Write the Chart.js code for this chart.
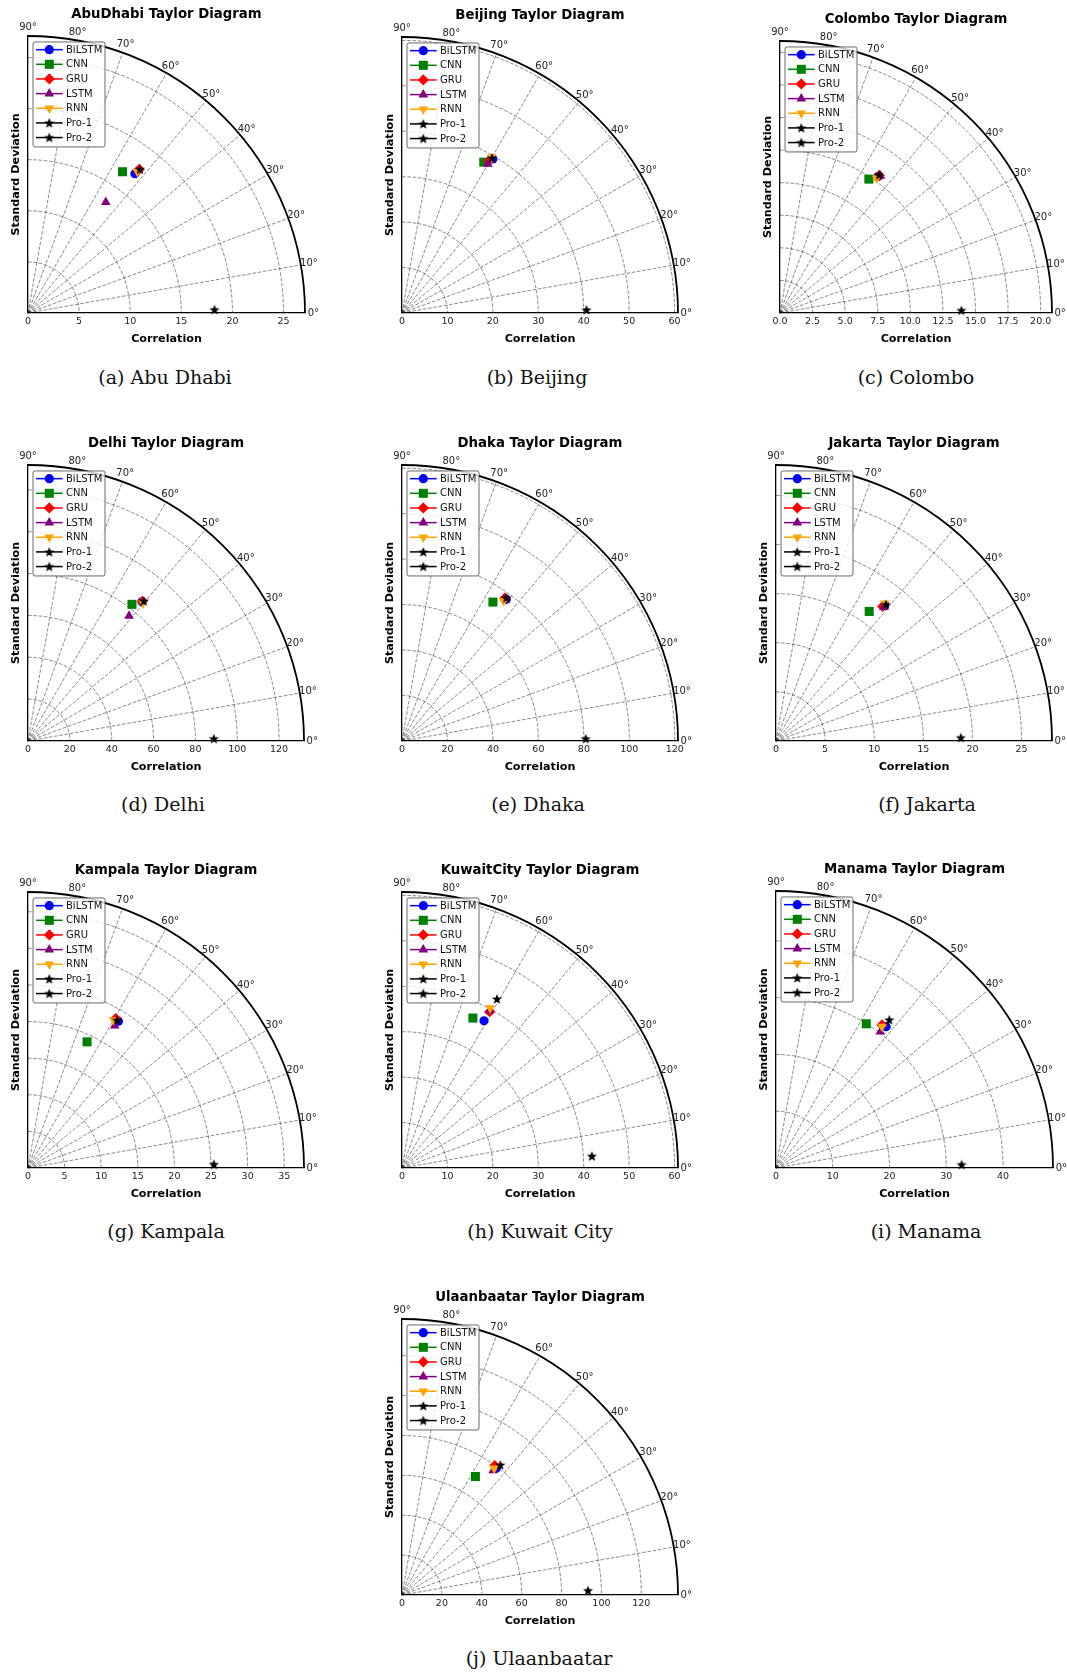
<!DOCTYPE html>
<html>
<head>
<meta charset="utf-8">
<title>Taylor Diagrams</title>
<script src="https://cdn.jsdelivr.net/npm/chart.js@4.4.1/dist/chart.umd.min.js"></script>
<style>
html, body { margin: 0; padding: 0; background: #fff; }
#page { position: relative; width: 1067px; height: 1673px; overflow: hidden; background: #fff; }
#page canvas { position: absolute; }
.cap { position: absolute; font-family: 'DejaVu Serif', serif; font-size: 19px; color: #111;
       transform: translate(-50%, -50%); white-space: nowrap; }
</style>
</head>
<body>
<div id="page"></div>
<script>
// ---- data ----
const models = ['BiLSTM', 'CNN', 'GRU', 'LSTM', 'RNN', 'Pro-1', 'Pro-2'];
const cities = ['AbuDhabi', 'Beijing', 'Colombo', 'Delhi', 'Dhaka', 'Jakarta',
                'Kampala', 'KuwaitCity', 'Manama', 'Ulaanbaatar'];
const captions = ['(a) Abu Dhabi', '(b) Beijing', '(c) Colombo', '(d) Delhi', '(e) Dhaka',
                  '(f) Jakarta', '(g) Kampala', '(h) Kuwait City', '(i) Manama', '(j) Ulaanbaatar'];
const tickStep = [5, 10, 2.5, 20, 20, 5, 5, 10, 10, 20];
const axisMax = [27.1, 60.75, 20.87, 131.9, 121.4, 28.1, 37.7, 60.75, 48.8, 138.4];
const angleTicks = [0, 10, 20, 30, 40, 50, 60, 70, 80, 90];

// x = "Correlation" axis, y = standard deviation axis (order follows models)
const abuDhabiX    = [10.46, 9.25, 10.88, 7.61, 10.7, 10.95, 18.24];
const abuDhabiY    = [13.63, 13.82, 14.05, 10.85, 13.8, 14.05, 0.33];
const beijingX     = [20.0, 18.0, 19.1, 18.9, 19.7, 19.8, 40.6];
const beijingY     = [33.9, 33.2, 33.5, 32.8, 34.3, 34.1, 0.7];
const colomboX     = [7.53, 6.82, 7.61, 7.71, 7.41, 7.61, 13.92];
const colomboY     = [10.47, 10.27, 10.55, 10.52, 10.34, 10.6, 0.2];
const delhiX       = [54.5, 49.7, 54.7, 48.3, 55.0, 55.3, 88.8];
const delhiY       = [66.5, 65.3, 66.7, 59.8, 65.9, 66.9, 1.1];
const dhakaX       = [45.9, 40.0, 45.2, 45.5, 44.7, 45.9, 80.8];
const dhakaY       = [62.3, 61.1, 62.8, 62.3, 61.6, 63.0, 1.0];
const jakartaX     = [11.05, 9.49, 10.85, 10.98, 11.08, 11.19, 18.81];
const jakartaY     = [13.8, 13.19, 13.69, 13.63, 14.03, 13.9, 0.34];
const kampalaX     = [12.35, 8.07, 11.99, 11.85, 11.71, 12.17, 25.39];
const kampalaY     = [20.05, 17.23, 20.42, 19.42, 20.19, 20.19, 0.5];
const kuwaitCityX  = [18.05, 15.6, 19.3, 19.3, 19.4, 20.9, 41.8];
const kuwaitCityY  = [32.4, 33.0, 34.4, 34.6, 35.2, 37.2, 2.6];
const manamaX      = [19.4, 15.9, 18.67, 18.37, 18.67, 19.96, 32.7];
const manamaY      = [24.9, 25.4, 25.2, 24.0, 24.9, 26.1, 0.59];
const ulaanbaatarX = [47.3, 36.8, 46.5, 45.7, 46.2, 49.3, 93.3];
const ulaanbaatarY = [63.5, 59.4, 64.9, 62.4, 63.5, 65.2, 2.2];

const corrData = [abuDhabiX, beijingX, colomboX, delhiX, dhakaX, jakartaX, kampalaX, kuwaitCityX, manamaX, ulaanbaatarX];
const stdData  = [abuDhabiY, beijingY, colomboY, delhiY, dhakaY, jakartaY, kampalaY, kuwaitCityY, manamaY, ulaanbaatarY];

// ---- layout (page pixels) ----
const originX  = [28, 402, 780, 28, 402, 776, 28, 402, 776, 402];
const originY  = [313, 313, 313, 741, 741, 741, 1168, 1168, 1168, 1595];
const radiusPx = [277, 276, 272, 276, 276, 276, 276, 276, 277, 276];
const captionX = [165, 537, 916, 163, 538, 927, 166, 540, 926, 539];
const captionY = [377, 377, 377, 804, 804, 804, 1231, 1231, 1231, 1658];
const padL = 36, padT = 42, padR = 36, padB = 36;

// ---- marker styles ----
function makeStar(size, color) {
    const c = document.createElement('canvas');
    c.width = size; c.height = size;
    const g = c.getContext('2d');
    const cx = size / 2, cy = size / 2 + 0.4, ro = size / 2 - 0.6, ri = ro * 0.42;
    g.beginPath();
    for (let k = 0; k < 10; k++) {
        const r = k % 2 ? ri : ro;
        const a = -Math.PI / 2 + k * Math.PI / 5;
        g.lineTo(cx + r * Math.cos(a), cy + r * Math.sin(a));
    }
    g.closePath();
    g.fillStyle = color;
    g.fill();
    return c;
}
const starImg = makeStar(12, '#000');

const colors = ['#0000ff', '#008000', '#ff0000', '#800080', '#ffa500', '#000000', '#000000'];
const pStyles = ['circle', 'rect', 'rectRot', 'triangle', 'triangle', starImg, starImg];
const pRadius = [4.6, 6.4, 5.6, 5.6, 5.6, 6, 6];
const pRotation = [0, 0, 0, 0, 180, 0, 0];

Chart.defaults.font.family = "'DejaVu Sans', sans-serif";

const taylorPlugin = {
    id: 'taylor',
    beforeDatasetsDraw(chart, args, opts) {
        const ctx = chart.ctx, xs = chart.scales.x, ys = chart.scales.y;
        const cx = xs.getPixelForValue(0), cy = ys.getPixelForValue(0);
        const rMax = xs.getPixelForValue(opts.max) - cx;
        ctx.save();
        ctx.strokeStyle = 'rgba(0,0,0,0.58)';
        ctx.lineWidth = 0.8;
        ctx.setLineDash([3.7, 1.6]);
        for (let v = opts.step; v < opts.max - 1e-6; v += opts.step) {
            const r = xs.getPixelForValue(v) - cx;
            ctx.beginPath();
            ctx.arc(cx, cy, r, -Math.PI / 2, 0);
            ctx.stroke();
        }
        angleTicks.forEach(a => {
            if (a === 0 || a === 90) return;
            const t = a * Math.PI / 180;
            ctx.beginPath();
            ctx.moveTo(cx, cy);
            ctx.lineTo(cx + rMax * Math.cos(t), cy - rMax * Math.sin(t));
            ctx.stroke();
        });
        ctx.setLineDash([]);
        ctx.strokeStyle = '#000';
        ctx.lineWidth = 1.8;
        ctx.beginPath();
        ctx.arc(cx, cy, rMax, -Math.PI / 2, 0);
        ctx.stroke();
        ctx.fillStyle = '#222';
        ctx.font = "10px 'DejaVu Sans'";
        ctx.textAlign = 'center';
        ctx.textBaseline = 'middle';
        angleTicks.forEach(a => {
            const t = a * Math.PI / 180;
            ctx.fillText(a + '\u00b0', cx + 1.03 * rMax * Math.cos(t), cy - 1.03 * rMax * Math.sin(t));
        });
        ctx.restore();
    },
    afterDraw(chart) {
        // legend box in the upper left of the plot
        const ctx = chart.ctx, ca = chart.chartArea;
        const L = ca.left + 5, T = ca.top + 6, W = 72, H = 105;
        ctx.save();
        ctx.fillStyle = 'rgba(255,255,255,0.8)';
        ctx.strokeStyle = '#444';
        ctx.lineWidth = 0.8;
        ctx.beginPath();
        ctx.roundRect(L, T, W, H, 2);
        ctx.fill();
        ctx.stroke();
        chart.data.datasets.forEach((d, i) => {
            const y = T + 7.7 + i * 14.65;
            ctx.strokeStyle = d.pointBorderColor;
            ctx.lineWidth = 1.5;
            ctx.beginPath();
            ctx.moveTo(L + 3, y);
            ctx.lineTo(L + 29.7, y);
            ctx.stroke();
            ctx.fillStyle = d.pointBackgroundColor;
            Chart.helpers.drawPoint(ctx, {
                pointStyle: d.pointStyle, rotation: d.pointRotation,
                radius: d.pointRadius, borderWidth: 0
            }, L + 16.3, y);
            ctx.fillStyle = '#111';
            ctx.font = "10px 'DejaVu Sans'";
            ctx.textAlign = 'left';
            ctx.textBaseline = 'middle';
            ctx.fillText(d.label, L + 33, y + 0.5);
        });
        ctx.restore();
    }
};

const page = document.getElementById('page');

cities.forEach((city, i) => {
    const R = radiusPx[i];
    const cv = document.createElement('canvas');
    cv.width = padL + R + padR;
    cv.height = padT + R + padB;
    cv.style.left = (originX[i] - padL) + 'px';
    cv.style.top = (originY[i] - R - padT) + 'px';
    page.appendChild(cv);

    const datasets = models.map((m, k) => ({
        label: m,
        data: [{ x: corrData[i][k], y: stdData[i][k] }],
        pointStyle: pStyles[k],
        pointRadius: pRadius[k],
        pointRotation: pRotation[k],
        pointBackgroundColor: colors[k],
        pointBorderColor: colors[k],
        pointBorderWidth: 0,
        clip: false,
        order: models.length - k
    }));

    const step = tickStep[i];
    new Chart(cv, {
        type: 'scatter',
        data: { datasets: datasets },
        options: {
            responsive: false,
            animation: false,
            events: [],
            layout: { padding: { left: 0, top: 0, right: padR, bottom: 0 } },
            scales: {
                x: {
                    type: 'linear', min: 0, max: axisMax[i],
                    afterFit(s) { s.height = padB; },
                    grid: { display: false, drawTicks: false },
                    border: { display: true, color: '#000', width: 1.3 },
                    ticks: {
                        stepSize: step, includeBounds: false, autoSkip: false, maxRotation: 0,
                        padding: 3, color: '#222', font: { size: 9.5 },
                        callback: v => step < 5 ? Number(v).toFixed(1) : String(v)
                    },
                    title: {
                        display: true, text: 'Correlation', color: '#000',
                        font: { size: 11.2, weight: 'bold' }, padding: { top: 0, bottom: 3 }
                    }
                },
                y: {
                    type: 'linear', min: 0, max: axisMax[i],
                    afterFit(s) { s.width = padL; },
                    grid: { display: false, drawTicks: false },
                    border: { display: true, color: '#000', width: 1.3 },
                    ticks: { display: false, stepSize: step },
                    title: {
                        display: true, text: 'Standard Deviation', color: '#000',
                        font: { size: 11.2, weight: 'bold' }, padding: { top: 17.5, bottom: 0 }
                    }
                }
            },
            plugins: {
                legend: { display: false },
                tooltip: { enabled: false },
                title: {
                    display: true, fullSize: false, text: city + ' Taylor Diagram', color: '#000',
                    font: { size: 13.3, weight: 'bold', lineHeight: 1.2 },
                    padding: { top: 13, bottom: 13 }
                },
                taylor: { max: axisMax[i], step: step }
            }
        },
        plugins: [taylorPlugin]
    });

    const cap = document.createElement('div');
    cap.className = 'cap';
    cap.textContent = captions[i];
    cap.style.left = captionX[i] + 'px';
    cap.style.top = captionY[i] + 'px';
    page.appendChild(cap);
});
</script>
</body>
</html>
